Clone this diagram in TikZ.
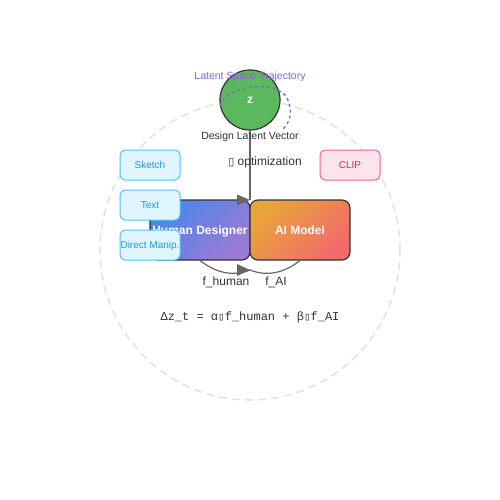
\documentclass[tikz,border=0pt]{standalone}
\usepackage{fontspec}
\setmainfont{Liberation Sans}
\setmonofont{Liberation Mono}
\newfontfamily\dvsans{DejaVu Sans}
\newfontfamily\dvmono{DejaVu Sans Mono}
\usetikzlibrary{shapes.geometric}
\definecolor{ringgray}{HTML}{E2E2E2}
\definecolor{zgreen}{HTML}{5CB85C}
\definecolor{darkline}{HTML}{333333}
\definecolor{linegray}{HTML}{666666}
\definecolor{trajpurple}{HTML}{8E5FD6}
\definecolor{hblue}{HTML}{4A86E8}
\definecolor{hpurple}{HTML}{9C7AD8}
\definecolor{aorange}{HTML}{E8A53A}
\definecolor{ared}{HTML}{F26B6B}
\definecolor{modfill}{HTML}{E1F5FE}
\definecolor{moddraw}{HTML}{4FC3F7}
\definecolor{modtext}{HTML}{1E9BD8}
\definecolor{clipfill}{HTML}{FCE4EC}
\definecolor{clipdraw}{HTML}{F06292}
\definecolor{cliptext}{HTML}{E91E63}
\definecolor{txtgray}{HTML}{333333}
\tikzset{
  agentbox/.style={rectangle, rounded corners=8pt, draw=darkline, line width=1.2pt,
    minimum width=100pt, minimum height=60pt, inner sep=0pt, text=white, text depth=0pt,
    font=\fontsize{12}{14}\selectfont\bfseries},
  modbox/.style={rectangle, rounded corners=5pt, draw=moddraw, fill=modfill, line width=1pt,
    minimum width=60pt, minimum height=30pt, inner sep=0pt, text=modtext, text depth=0pt,
    font=\fontsize{10}{12}\selectfont},
  clipbox/.style={rectangle, rounded corners=5pt, draw=clipdraw, fill=clipfill, line width=1pt,
    minimum width=60pt, minimum height=30pt, inner sep=0pt, text=cliptext, text depth=0pt,
    font=\fontsize{10}{12}\selectfont},
  lbl/.style={inner sep=0pt, text=txtgray, text depth=0pt, font=\fontsize{12}{14}\selectfont},
  smalllbl/.style={inner sep=0pt, text=txtgray, text depth=0pt, font=\fontsize{10.5}{12}\selectfont},
  conn/.style={draw=linegray, line width=1.5pt},
}
\begin{document}
\begin{tikzpicture}[x=1pt,y=-1pt]
\useasboundingbox (0,0) rectangle (500,500);
\fill[white] (0,0) rectangle (500,500);
% background ring
\node[circle, draw=ringgray, line width=1.5pt, dash pattern=on 8pt off 5pt,
  minimum size=300pt, inner sep=0pt] (ring) at (250,250) {};
% latent vector
\node[circle, draw=darkline, fill=zgreen, line width=1.2pt, minimum size=60pt,
  inner sep=0pt, text=white, font=\fontsize{12}{14}\selectfont\bfseries] (z) at (250,100) {z};
\coordinate (top) at (250,200);
\draw[conn, line width=2pt] (z.south) -- (top);
% agents
\node[agentbox, top color=hblue, bottom color=hpurple, shading angle=45] (human) at (200,230) {Human Designer};
\node[agentbox, top color=aorange, bottom color=ared, shading angle=45] (ai) at (300,230) {AI Model};
\fill[linegray] (top) -- ++(-13,-5.5) -- ++(0,11) -- cycle;
% bottom loop
\coordinate (mid) at (250,270);
\draw[conn, line width=1.2pt] (human.south) .. controls (216.67,273.33) and (233.33,276.67) .. (mid);
\draw[conn, line width=1.2pt] (mid) .. controls (266.67,276.67) and (283.33,273.33) .. (ai.south);
\fill[linegray] (mid) -- ++(-13,-6) -- ++(0,12) -- cycle;
% trajectory
\draw[trajpurple, line width=1.3pt, dash pattern=on 3pt off 3pt]
  (220,106) .. controls (226,84) and (278,80) .. (287,98)
  .. controls (293,110) and (291,122) .. (282,130);
\node[inner sep=0pt, text=trajpurple, text depth=0pt, font=\fontsize{10.5}{12}\selectfont] (traj) at (250,76) {Latent Space Trajectory};
\node[smalllbl] (dlv) at (250,136) {Design Latent Vector};
\node[lbl] (opt) at (265,161) {{\dvsans\fontsize{11}{12}\selectfont ▯} optimization};
% modalities
\node[modbox] (sketch) at (150,165) {Sketch};
\node[modbox] (text) at (150,205) {Text};
\node[modbox] (manip) at (150,245) {Direct Manip.};
\node[clipbox] (clip) at (350,165) {CLIP};
% labels
\node[lbl] (fh) at (226,281) {f\_human};
\node[lbl] (fa) at (276,281) {f\_AI};
\node[inner sep=0pt, text=txtgray, text depth=0pt, font=\fontsize{12}{14}\selectfont\ttfamily] (eq) at (250,316)
  {Δz\_t = α{\dvmono\fontsize{11}{14}\selectfont ▯}f\_human + β{\dvmono\fontsize{11}{14}\selectfont ▯}f\_AI};
\end{tikzpicture}
\end{document}
